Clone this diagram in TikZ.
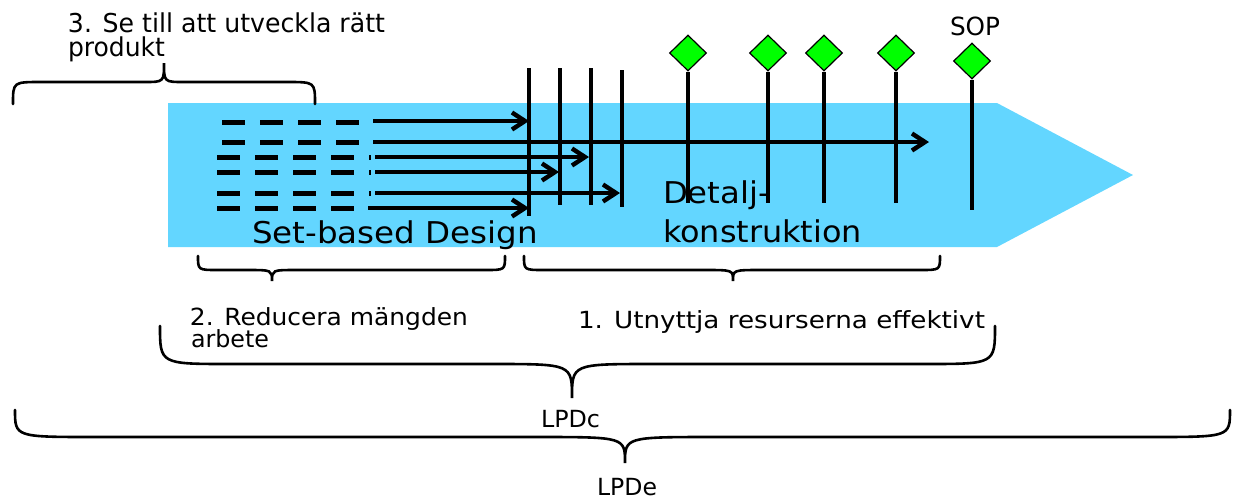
\documentclass[tikz,border=0pt]{standalone}
\usepackage{fontspec}
\setmainfont{DejaVu Sans}
\usetikzlibrary{arrows.meta,shapes.geometric}
\definecolor{band}{RGB}{99,214,255}
\definecolor{gem}{RGB}{0,255,0}
\newcommand\fitw[2]{\resizebox{#1}{\height}{#2}}
\newcommand\mybrace[8]{%
  \draw[bracestyle] (#1,#4) .. controls (#1,#5) and (#1,#5) .. (#1+#7,#5) -- (#3-#8,#5)
    .. controls (#3,#5) and (#3,#5) .. (#3,#6)
    .. controls (#3,#5) and (#3,#5) .. (#3+#8,#5) -- (#2-#7,#5)
    .. controls (#2,#5) and (#2,#5) .. (#2,#4);}
\begin{document}
\begin{tikzpicture}[x=0.5pt,y=-0.5pt,
  bracestyle/.style={line width=1.3pt,line cap=round},
  lbl/.style={anchor=base west,inner sep=0pt,outer sep=0pt},
  arr/.style={line width=2.3pt,-{Straight Barb[length=6.5pt,width=8.5pt,line width=2.2pt]}},
  vline/.style={line width=2.3pt},
  stem/.style={line width=1.6pt},
  gate/.style={diamond,draw=black,fill=gem,line width=0.6pt,minimum width=18.5pt,minimum height=18pt,inner sep=0pt},
  dashbar/.style={fill=black}]
\useasboundingbox (0,0) rectangle (1233,500);
% band
\fill[band] (168,103) -- (997,103) -- (1133,175) -- (997,247) -- (168,247) -- cycle;
% dashes
\foreach \y in {122,142}{\foreach \x in {222,260,298,336}{\fill[dashbar] (\x,\y-2.5) rectangle (\x+23,\y+2.5);}}
\foreach \y in {157,172,193,208}{\foreach \x in {217,255,293,331}{\fill[dashbar] (\x,\y-2.5) rectangle (\x+23,\y+2.5);}}
\foreach \y in {157,172,193}{\fill[dashbar] (369,\y-2.5) rectangle (371,\y+2.5);}
% vertical lines
\coordinate (v1t) at (529,68); \coordinate (v1b) at (529,216);
\coordinate (v2t) at (560,68); \coordinate (v2b) at (560,205);
\coordinate (v3t) at (591,68); \coordinate (v3b) at (591,205);
\coordinate (v4t) at (622,70); \coordinate (v4b) at (622,207);
\draw[vline] (v1t) -- (v1b);
\draw[vline] (v2t) -- (v2b);
\draw[vline] (v3t) -- (v3b);
\draw[vline] (v4t) -- (v4b);
% arrows
\coordinate (a1s) at (373,121); \coordinate (a1e) at (529,121);
\coordinate (a2s) at (373,142); \coordinate (a2e) at (929,142);
\coordinate (a3s) at (375,157); \coordinate (a3e) at (589,157);
\coordinate (a4s) at (375,172); \coordinate (a4e) at (559,172);
\coordinate (a5s) at (375,193); \coordinate (a5e) at (620,193);
\coordinate (a6s) at (368,208); \coordinate (a6e) at (529,208);
\draw[arr] (a1s) -- (a1e);
\draw[arr] (a2s) -- (a2e);
\draw[arr] (a3s) -- (a3e);
\draw[arr] (a4s) -- (a4e);
\draw[arr] (a5s) -- (a5e);
\draw[arr] (a6s) -- (a6e);
% gates
\node[gate] (g1) at (688,53) {};
\node[gate] (g2) at (768,53) {};
\node[gate] (g3) at (824,53) {};
\node[gate] (g4) at (896,53) {};
\node[gate] (g5) at (972,61) {};
\coordinate (s1) at (688,203);
\coordinate (s2) at (768,203);
\coordinate (s3) at (824,203);
\coordinate (s4) at (896,203);
\coordinate (s5) at (972,210);
\draw[stem] (g1.south) -- (s1);
\draw[stem] (g2.south) -- (s2);
\draw[stem] (g3.south) -- (s3);
\draw[stem] (g4.south) -- (s4);
\draw[stem] (g5.south) -- (s5);
% braces
\mybrace{13}{315}{164}{104}{82}{63}{28}{20}
\mybrace{198}{505}{272}{256}{270}{281}{20}{25}
\mybrace{524}{940}{733}{256}{270}{281}{20}{28}
\mybrace{160}{995}{572}{326}{364}{398}{70}{80}
\mybrace{15}{1230}{625}{410}{437}{463}{80}{90}
% texts
\node[lbl,font=\fontsize{13pt}{15pt}\selectfont] (t3a) at (68,32) {\fitw{158.5pt}{3. Se till att utveckla rätt}};
\node[lbl,font=\fontsize{13pt}{15pt}\selectfont] (t3b) at (68,56) {\fitw{48.5pt}{produkt}};
\node[lbl,font=\fontsize{12.5pt}{14pt}\selectfont] (sop) at (950,35) {\fitw{25pt}{SOP}};
\node[lbl,font=\fontsize{15pt}{17pt}\selectfont] (sbd) at (252,243) {\fitw{143pt}{Set-based Design}};
\node[lbl,font=\fontsize{15pt}{17pt}\selectfont] (det1) at (663,203) {\fitw{53.5pt}{Detalj-}};
\node[lbl,font=\fontsize{15pt}{17pt}\selectfont] (det2) at (663,242) {\fitw{99.5pt}{konstruktion}};
\node[lbl,font=\fontsize{11.8pt}{13pt}\selectfont] (t2a) at (190,325) {\fitw{139pt}{2. Reducera mängden}};
\node[lbl,font=\fontsize{11.8pt}{13pt}\selectfont] (t2b) at (191,347) {\fitw{39pt}{arbete}};
\node[lbl,font=\fontsize{11.8pt}{13pt}\selectfont] (t1) at (578,328) {\fitw{203.5pt}{1. Utnyttja resurserna effektivt}};
\node[lbl,font=\fontsize{11.8pt}{13pt}\selectfont] (lpdc) at (541,427) {\fitw{29.5pt}{LPDc}};
\node[lbl,font=\fontsize{11.8pt}{13pt}\selectfont] (lpde) at (597,495) {\fitw{30pt}{LPDe}};
\end{tikzpicture}
\end{document}
